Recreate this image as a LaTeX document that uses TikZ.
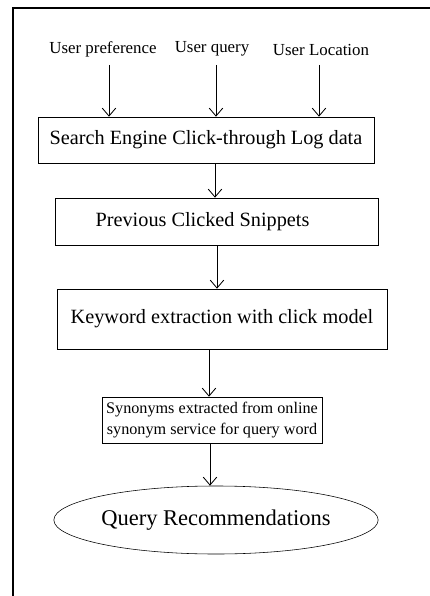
\documentclass[tikz,border=0pt]{standalone}
\usepackage{fontspec}
\setmainfont{Liberation Serif}
\usetikzlibrary{calc,arrows.meta,shapes.geometric}
\tikzset{
  stage/.style={draw, rectangle, inner sep=0pt, font=\fontsize{14.4}{17}\selectfont},
  input/.style={inner sep=0pt, font=\fontsize{12}{14}\selectfont},
  flow/.style={-{Straight Barb[length=2mm,width=3.4mm]}, semithick}
}

\begin{document}
\begin{tikzpicture}[x=0.025cm, y=-0.025cm]
    \useasboundingbox (0,0) rectangle (429,596);
    \draw[line width=1.1pt] (13,600) -- (13,8) -- (432,8); % outer frame

    % inputs on top
    \node[input] (pref)  at (103,49) {User preference};
    \node[input] (query) at (212,49) {User query};
    \node[input] (loc)   at (321,50) {User Location};
    \coordinate (in1) at (109,65);
    \coordinate (in2) at (216,65);
    \coordinate (in3) at (319,65);

    % the stages
    \node[stage, minimum width=8.4cm, minimum height=1.15cm] (log) at (206,140)
      {\raisebox{1.5pt}{Search Engine Click-through Log data}};
    \node[stage, minimum width=8.075cm, minimum height=1.175cm] (snip) at (216.5,221.5)
      {Previous Clicked Snippets\hspace*{0.7cm}};
    \node[stage, minimum width=8.25cm, minimum height=1.5cm] (kw) at (222,319)
      {Keyword extraction with click model};
    \node[stage, minimum width=5.5cm, minimum height=1.15cm, align=center,
      font=\fontsize{11.5}{15}\selectfont] (syn) at (212,420)
      {Synonyms extracted from online\\synonym service for query word};
    \node[draw, ellipse, inner sep=0pt, minimum width=7.2cm, minimum height=1.7cm,
      font=\fontsize{16}{19}\selectfont] (rec) at (216,520) {Query Recommendations};

    % x positions of the links
    \coordinate (c1) at (215,0);
    \coordinate (c2) at (217,0);
    \coordinate (c3) at (209,0);
    \coordinate (c4) at (210,0);

    \foreach \p in {in1,in2,in3}{%
      \draw[flow] (\p) -- (\p |- log.north);
    }
    \draw[flow] (log.south -| c1) -- (snip.north -| c1);
    \draw[flow] (snip.south -| c2) -- (kw.north -| c2);
    \draw[flow] (kw.south -| c3) -- (syn.north -| c3);
    \draw[flow] (syn.south -| c4) -- (rec.north -| c4);
\end{tikzpicture}
\end{document}
